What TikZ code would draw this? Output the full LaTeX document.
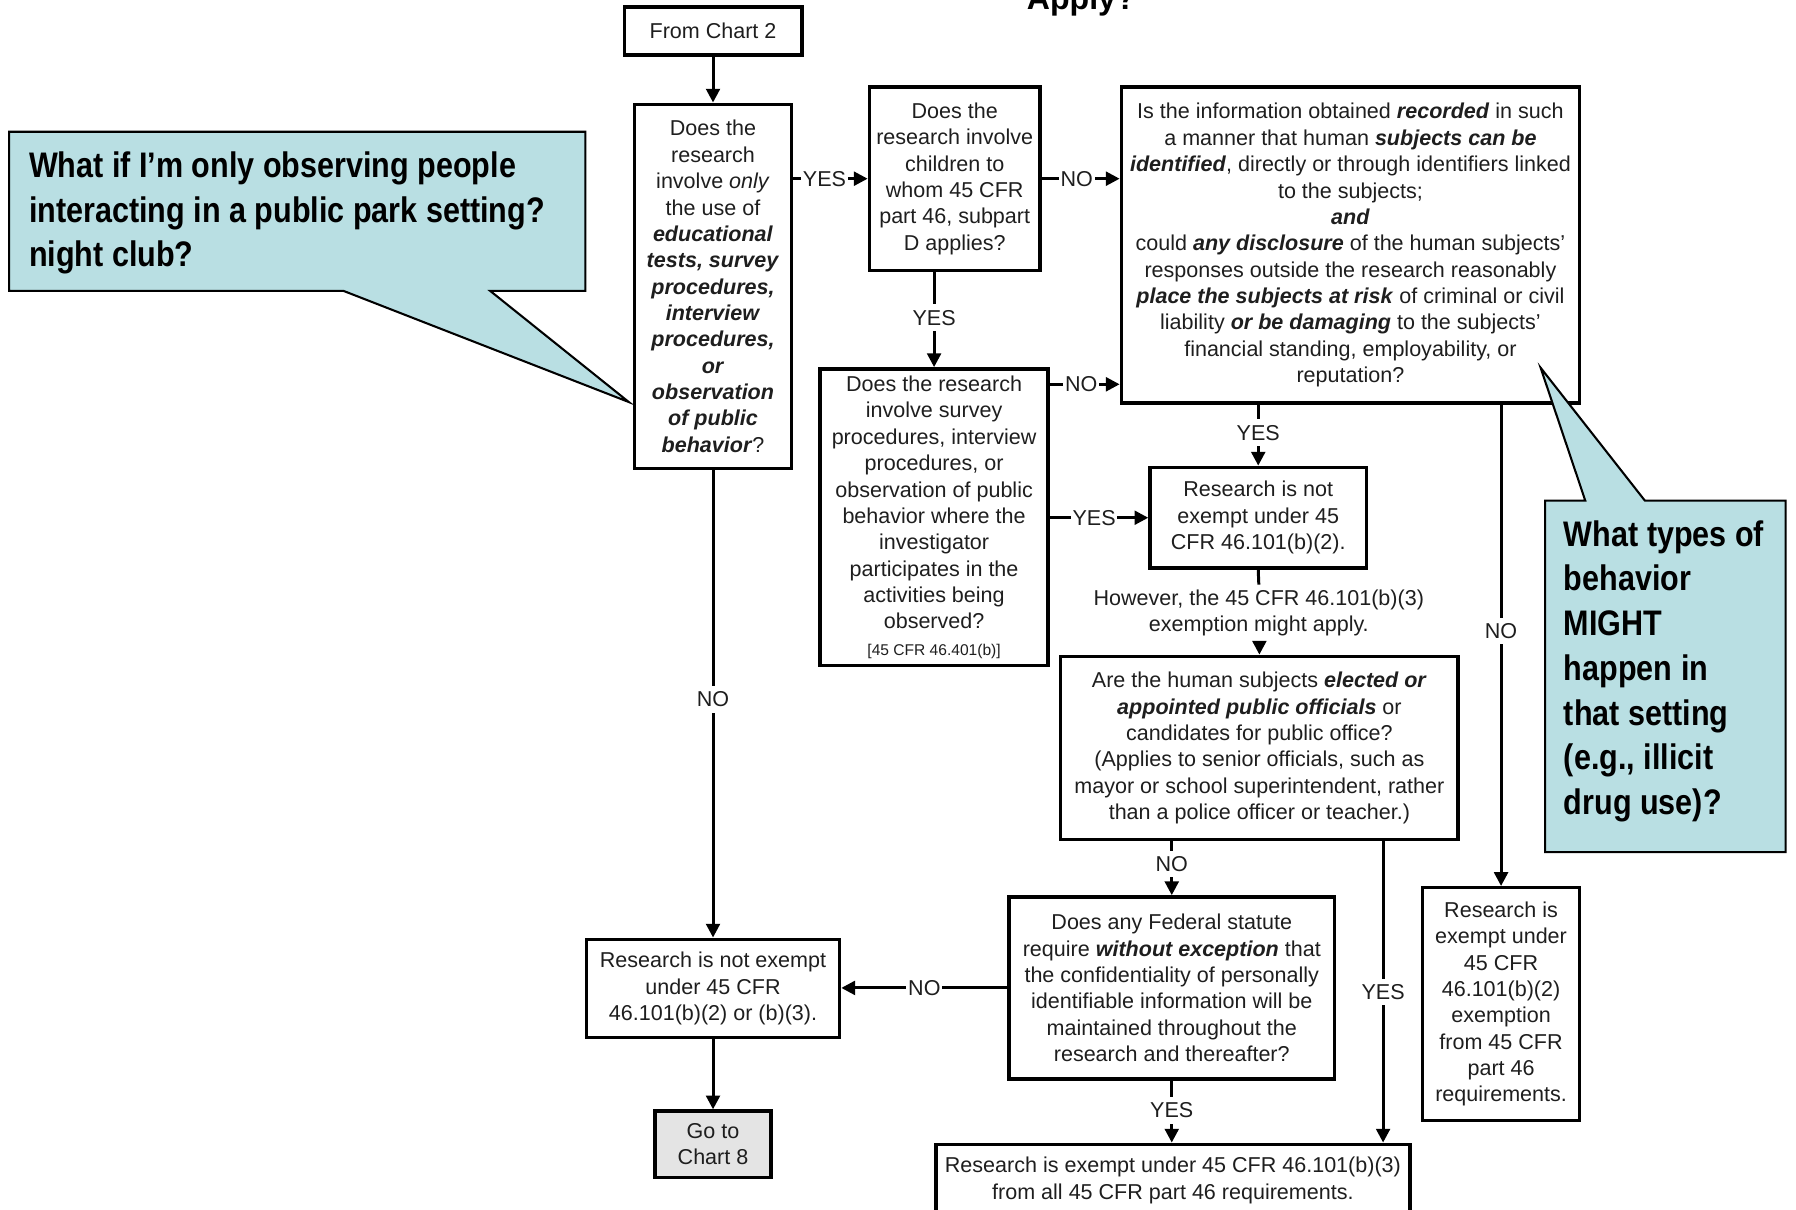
\documentclass[tikz,border=0pt]{standalone}
\usepackage{fontspec}
\setmainfont{Liberation Sans}
\newfontfamily\calloutfont[FakeStretch=0.86]{Liberation Sans}
\usetikzlibrary{arrows.meta,calc}
\newcommand\bi[1]{\textbf{\textit{#1}}}
\definecolor{callfill}{HTML}{B9DFE3}
\definecolor{gofill}{HTML}{E4E4E4}
\definecolor{ink}{HTML}{1E1E1E}

\begin{document}
\begin{tikzpicture}[x=0.5pt,y=-0.5pt,
  box/.style={draw, line width=1.5pt, inner sep=0pt, align=center,
    font=\fontsize{9.4}{11.5}\selectfont, text=ink},
  link/.style={line width=1.3pt},
  flow/.style={link, -{Triangle[length=6pt,width=6pt]}},
  tag/.style={fill=white, inner xsep=0.8pt, inner ysep=2.5pt, font=\fontsize{9.4}{11}\selectfont, text=ink},
  balloon/.style={fill=callfill, draw=black, line width=0.9pt, line join=miter},
  balloontext/.style={align=left, inner sep=0pt,
    font=\calloutfont\bfseries\fontsize{15.5}{19.5}\selectfont}
]
\useasboundingbox (0,0) rectangle (1568,1056);

% heading (runs off the top edge)
\node[anchor=base, font=\bfseries\fontsize{14}{16}\selectfont] (title) at (944,8) {Apply?};

% boxes
\node[box, minimum width=77.5pt, minimum height=21pt] (c0) at (622.5,27) {From Chart 2};

\node[box, minimum width=68.5pt, minimum height=159pt] (b1) at (622.5,250)
  {Does the\\research\\involve \textit{only}\\the use of\\\bi{educational}\\\bi{tests, survey}\\
   \bi{procedures,}\\\bi{interview}\\\bi{procedures,}\\\bi{or}\\\bi{observation}\\\bi{of public}\\\bi{behavior}?};

\node[box, minimum width=74.5pt, minimum height=80pt] (b2) at (833.5,156)
  {Does the\\research involve\\children to\\whom 45 CFR\\part 46, subpart\\D applies?};

\node[box, minimum width=200pt, minimum height=138pt] (b3) at (1179,214)
  {Is the information obtained \bi{recorded} in such\\
   a manner that human \bi{subjects can be}\\
   \bi{identified}, directly or through identifiers linked\\
   to the subjects;\\
   \bi{and}\\
   could \bi{any disclosure} of the human subjects'\\
   responses outside the research reasonably\\
   \bi{place the subjects at risk} of criminal or civil\\
   liability \bi{or be damaging} to the subjects'\\
   financial standing, employability, or\\
   reputation?};

\node[box, minimum width=99.5pt, minimum height=129.5pt] (b4) at (815.5,451.5)
  {Does the research\\involve survey\\procedures, interview\\procedures, or\\observation of public\\
   behavior where the\\investigator\\participates in the\\activities being\\observed?\\
   {\fontsize{6.8}{10}\selectfont [45 CFR 46.401(b)]}};

\node[box, minimum width=94.5pt, minimum height=44pt] (b5) at (1098.5,452)
  {Research is not\\exempt under 45\\CFR 46.101(b)(2).};

\node[align=center, inner sep=2pt, font=\fontsize{9.4}{11.5}\selectfont, text=ink] (note) at (1099,535)
  {However, the 45 CFR 46.101(b)(3)\\exemption might apply.};

\node[box, minimum width=173.5pt, minimum height=80pt] (b6) at (1099.5,653)
  {Are the human subjects \bi{elected or}\\
   \bi{appointed public officials} or\\
   candidates for public office?\\
   (Applies to senior officials, such as\\
   mayor or school superintendent, rather\\
   than a police officer or teacher.)};

\node[box, minimum width=142pt, minimum height=79.5pt] (b7) at (1023,862.5)
  {Does any Federal statute\\
   require \bi{without exception} that\\
   the confidentiality of personally\\
   identifiable information will be\\
   maintained throughout the\\
   research and thereafter?};

\node[box, minimum width=110.5pt, minimum height=43pt] (b8) at (622.5,863)
  {Research is not exempt\\under 45 CFR\\46.101(b)(2) or (b)(3).};

\node[box, fill=gofill, minimum width=50.5pt, minimum height=29pt] (b9) at (622.5,999)
  {Go to\\Chart 8};

\node[box, minimum width=207pt, minimum height=31.5pt] (b10) at (1024,1030.5)
  {Research is exempt under 45 CFR 46.101(b)(3)\\from all 45 CFR part 46 requirements.};

\node[box, minimum width=68.5pt, minimum height=101.5pt] (b11) at (1310.5,876.5)
  {Research is\\exempt under\\45 CFR\\46.101(b)(2)\\exemption\\from 45 CFR\\part 46\\requirements.};

% connectors
\draw[flow] (c0.south) -- (b1.north);
\draw[flow] (b1.east |- b2.west) -- node[tag, pos=0.42] {YES} (b2.west);
\draw[flow] (b2.east) -- node[tag, pos=0.45] {NO} (b2.east -| b3.west);
\draw[flow] (b4.north |- b2.south) -- node[tag, pos=0.48] {YES} (b4.north);
\coordinate (b4n) at ($(b4.north east)+(0,15)$);
\draw[flow] (b4n) -- node[tag, pos=0.45] {NO} (b4n -| b3.west);
\draw[flow] (b5.north |- b3.south) -- node[tag, pos=0.46] {YES} (b5.north);
\draw[flow] (b4.east |- b5.west) -- node[tag, pos=0.45] {YES} (b5.west);
\draw[link] (b5.south) -- (note.north);
\draw[flow] (b6.north |- note.south) -- (b6.north);
\draw[flow] (b7.north |- b6.south) -- node[tag, pos=0.42] {NO} (b7.north);
\coordinate (b6y) at ($(b6.south east)+(-67,0)$);
\draw[flow] (b6y) -- node[tag, pos=0.5] {YES} (b6y |- b10.north);
\draw[flow] (b7.west) -- node[tag, pos=0.5] {NO} (b7.west -| b8.east);
\draw[flow] (b1.south) -- node[tag, pos=0.49] {NO} (b8.north);
\draw[flow] (b8.south) -- (b9.north);
\draw[flow] (b7.south) -- node[tag, pos=0.48] {YES} (b7.south |- b10.north);
\draw[flow] (b11.north |- b3.south) -- node[tag, pos=0.47] {NO} (b11.north);

% speech balloons
\draw[balloon] (8,115) -- (511,115) -- (511,254) -- (428,254) -- (549,351) -- (300,254) -- (8,254) -- cycle;
\node[balloontext, anchor=west] (q1) at (25,186)
  {What if I’m only observing people\\interacting in a public park setting?\\night club?};

\draw[balloon] (1349,437) -- (1384,437) -- (1345,321) -- (1436,437) -- (1559,437) -- (1559,744) -- (1349,744) -- cycle;
\node[balloontext, anchor=west] (q2) at (1365,586)
  {What types of\\behavior\\MIGHT\\happen in\\that setting\\(e.g., illicit\\drug use)?};
\end{tikzpicture}
\end{document}
